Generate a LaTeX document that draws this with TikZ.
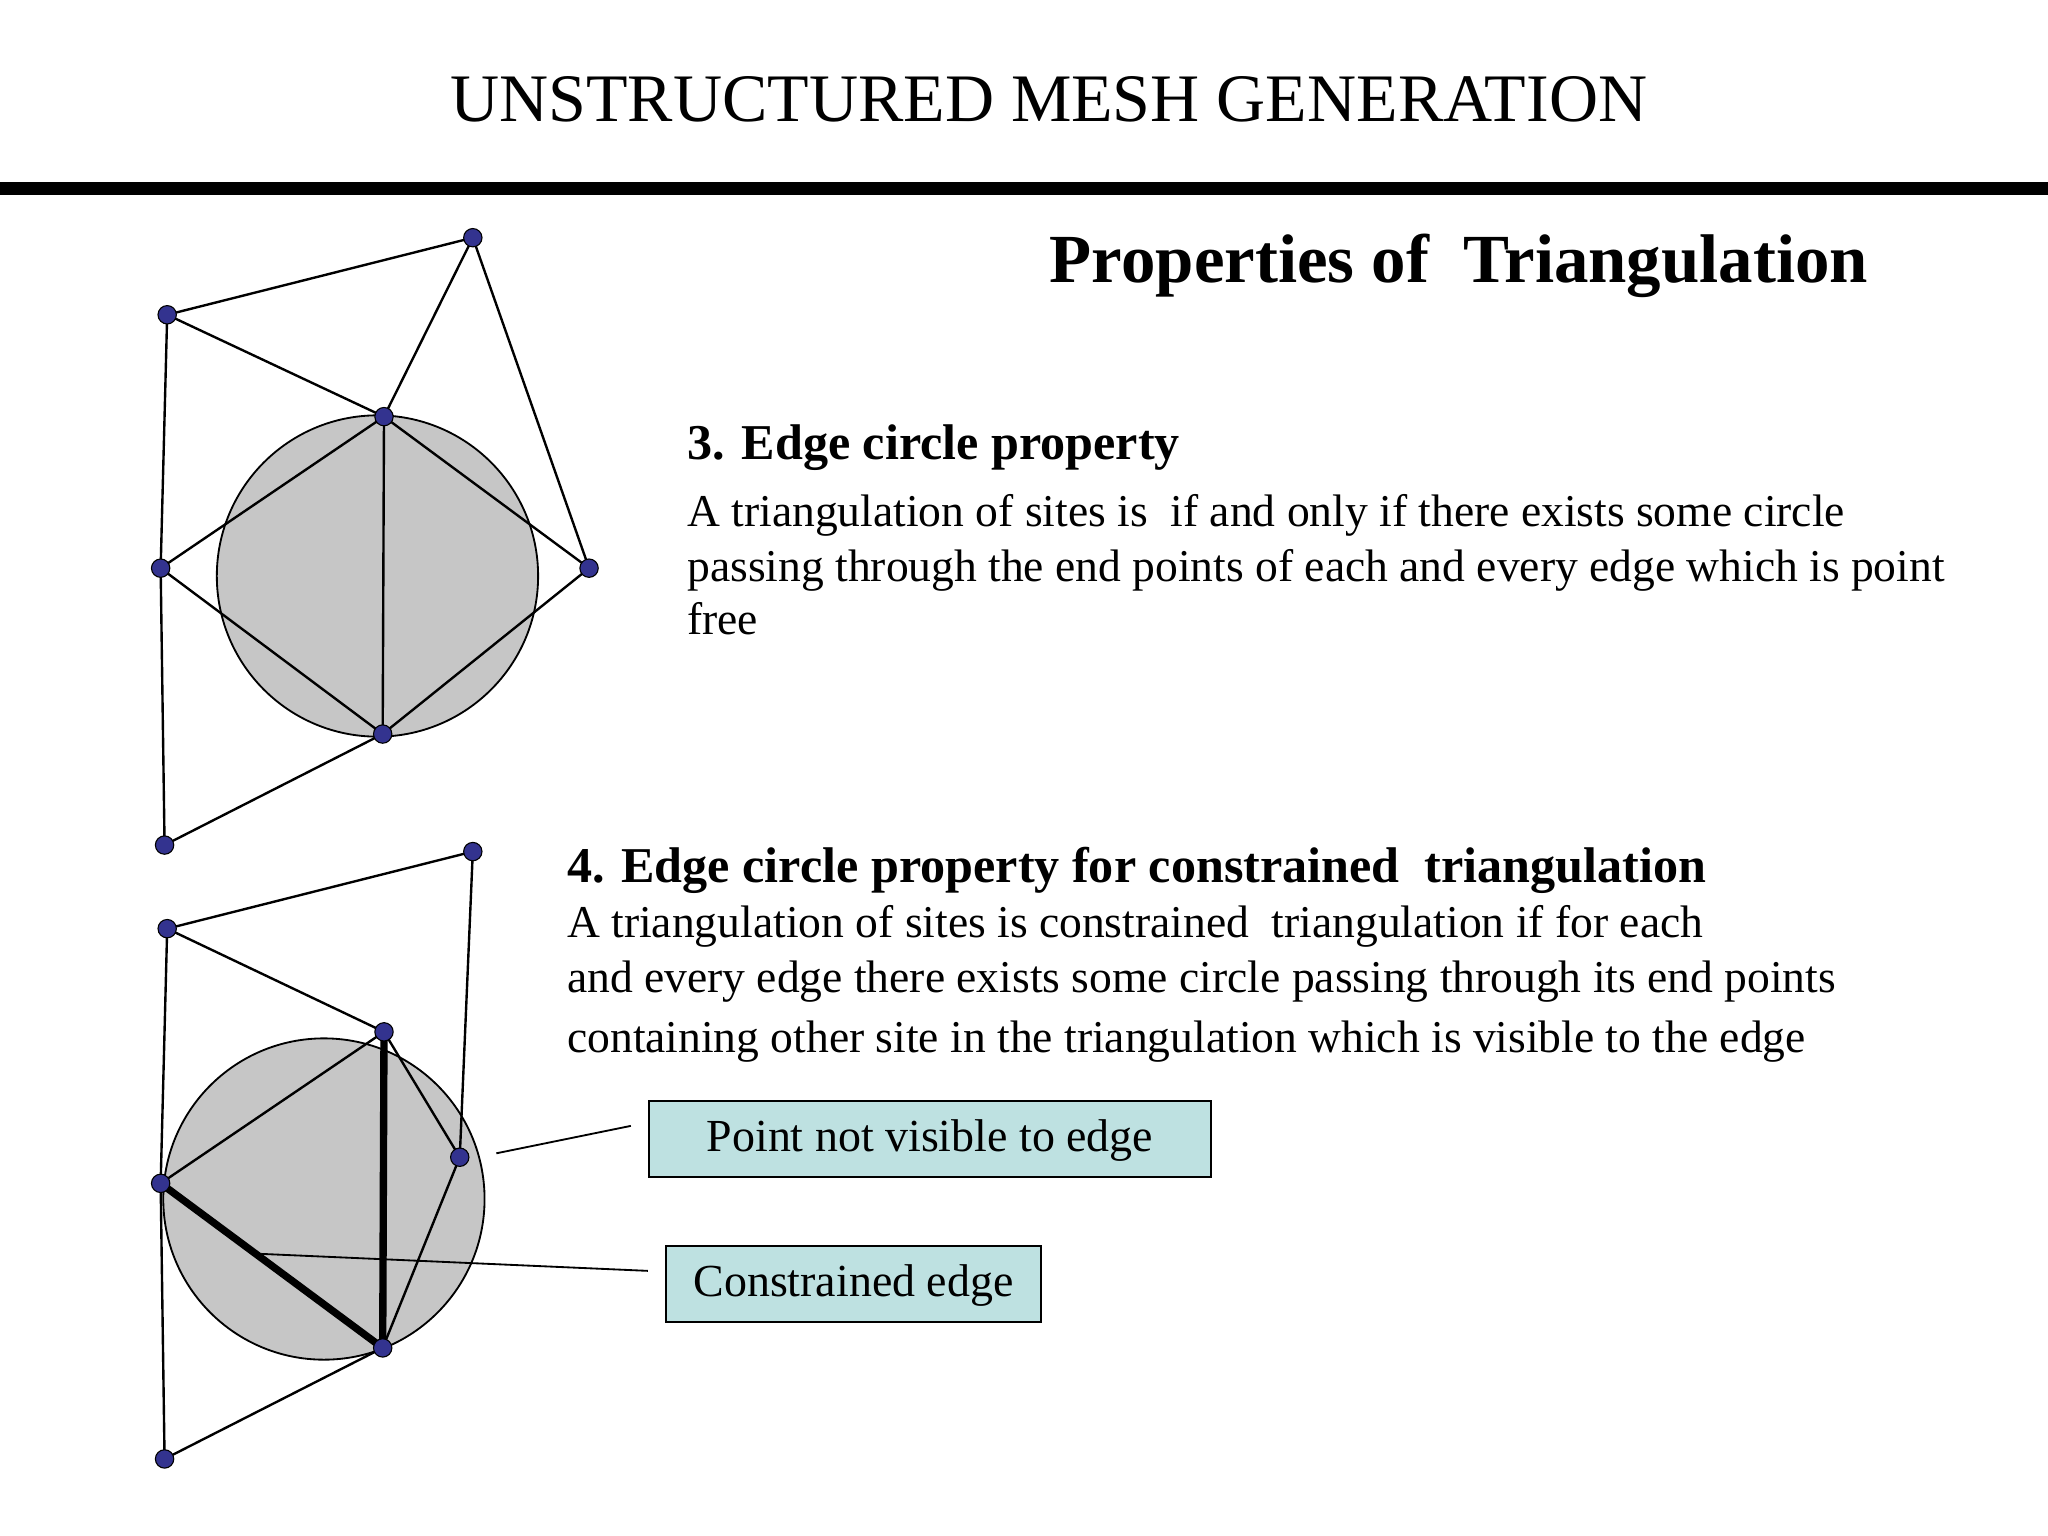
\documentclass[tikz,border=0pt]{standalone}
\usepackage{fontspec}
\setmainfont{Liberation Serif}
\definecolor{boxfill}{HTML}{BEE1E1}
\begin{document}
\begin{tikzpicture}[x=0.025cm,y=-0.025cm,
  pt/.style={circle,fill=blue!45!black!80,draw=black,inner sep=0pt,minimum size=10pt,line width=0.6pt},
  edge/.style={line width=1.3pt},
  body/.style={anchor=base west,inner sep=0pt,font=\fontsize{24.8}{30}\selectfont},
  head/.style={anchor=base west,inner sep=0pt,font=\fontsize{27.3}{32}\selectfont\bfseries},
  boxr/.style={draw=black,fill=boxfill,line width=1pt},
  lbl/.style={inner sep=0pt,font=\fontsize{25}{30}\selectfont}]
\useasboundingbox (0,0) rectangle (1568,1176);
\fill[white] (0,0) rectangle (1568,1176);
\node[anchor=base,inner sep=0pt,font=\fontsize{37}{44}\selectfont] (title) at (803,93) {UNSTRUCTURED MESH GENERATION};
\fill (0,139) rectangle (1568,149);
\node[anchor=base,inner sep=0pt,font=\fontsize{37.5}{46}\selectfont\bfseries] (sub) at (1117,216) {Properties of\ \ Triangulation};
% top diagram
\fill[gray!45,draw=black,line width=1pt] (289,441) circle (123);
\coordinate (A) at (128,241); \coordinate (B) at (362,182); \coordinate (C) at (294,319);
\coordinate (D) at (123,435); \coordinate (E) at (451,435); \coordinate (F) at (293,562);
\coordinate (G) at (126,647);
\draw[edge] (A)--(B) (A)--(C) (A)--(D) (D)--(G) (B)--(C) (B)--(E) (C)--(D) (C)--(E) (C)--(F) (D)--(F) (E)--(F) (F)--(G);
\foreach \p in {A,B,C,D,E,F,G} \node[pt] at (\p) {};
% bottom diagram
\fill[gray!45,draw=black,line width=1pt] (248,918) circle (123);
\coordinate (A2) at (128,711); \coordinate (B2) at (362,652); \coordinate (C2) at (294,790);
\coordinate (D2) at (123,906); \coordinate (P2) at (352,886); \coordinate (F2) at (293,1032);
\coordinate (G2) at (126,1117);
\draw[edge] (A2)--(B2) (A2)--(C2) (A2)--(D2) (D2)--(G2) (B2)--(P2) (C2)--(P2) (C2)--(D2) (P2)--(F2) (F2)--(G2);
\draw[line width=4pt] (C2)--(F2) (D2)--(F2);
\foreach \p in {A2,B2,C2,D2,P2,F2,G2} \node[pt] at (\p) {};
% texts
\node[head] (h3) at (526,352) {3. Edge circle property};
\node[body] (t1) at (526,403) {A triangulation of sites is\ \ if and only if there exists some circle};
\node[body] (t2) at (526,445) {passing through the end points of each and every edge which is point};
\node[body] (t3) at (526,486) {free};
\node[head] (h4) at (434,676) {4. Edge circle property for constrained\ \ triangulation};
\node[body] (u1) at (434,718) {A triangulation of sites is constrained\ \ triangulation if for each};
\node[body] (u2) at (434,760) {and every edge there exists some circle passing through its end points};
\node[body] (u3) at (434,806) {containing other site in the triangulation which is visible to the edge};
\draw[boxr] (497,843) rectangle (927,901);
\node[lbl] (b1) at (712,873) {Point not visible to edge};
\draw[boxr] (510,954) rectangle (797,1012);
\node[lbl] (b2) at (653.5,984) {Constrained edge};
\coordinate (c1) at (380,883); \coordinate (c1e) at (483,862);
\coordinate (c2) at (200,960); \coordinate (c2e) at (496,973);
\draw[line width=1pt] (c1)--(c1e);
\draw[line width=1pt] (c2)--(c2e);
\end{tikzpicture}
\end{document}
